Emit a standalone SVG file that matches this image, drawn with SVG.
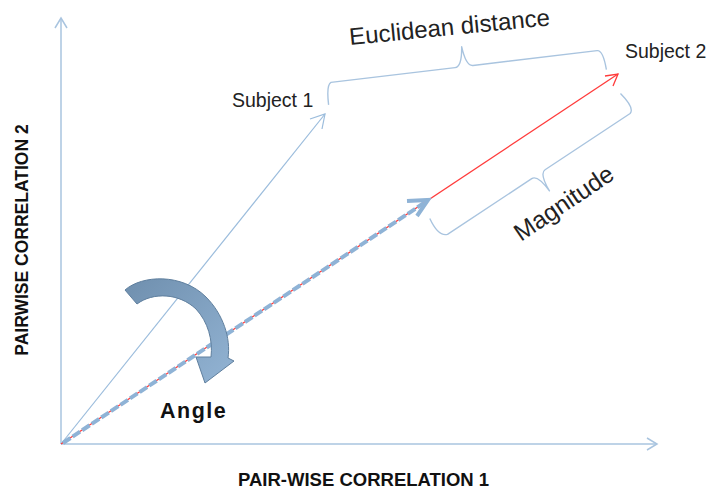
<svg xmlns="http://www.w3.org/2000/svg" width="709" height="490" viewBox="0 0 709 490">
<defs>
<style>
.axis{stroke:#a9c4df;stroke-width:1.5;fill:none}
.thin{stroke:#9bbcdc;stroke-width:1.2;fill:none}
.brace{stroke:#a9c4df;stroke-width:1.4;fill:none;stroke-linejoin:round}
.red{stroke:#ff3b3b;stroke-width:1.3;fill:none}
.dash{stroke:#8fb3d6;stroke-width:4;fill:none;stroke-dasharray:9 2.5}
.lbl{font-family:"Liberation Sans",Arial,sans-serif;fill:#222}
.bold{font-family:"Liberation Sans",Arial,sans-serif;font-weight:bold;fill:#111}
</style>
<linearGradient id="g" x1="0" y1="0" x2="1" y2="1">
<stop offset="0" stop-color="#6f8fae"/>
<stop offset="1" stop-color="#93b4d4"/>
</linearGradient>
</defs>
<rect width="709" height="490" fill="#fff"/>
<g id="connectors">
<line class="axis" x1="61" y1="444" x2="61" y2="19"/>
<polyline class="axis" points="55,28 61,18 67,28"/>
<line class="axis" x1="61" y1="444" x2="656" y2="444"/>
<polyline class="axis" points="647,438 657,444 647,450"/>
<line class="thin" x1="61" y1="444" x2="325" y2="114"/>
<polyline class="thin" points="310,119 325,114 322,129"/>
<line class="red" x1="61" y1="444" x2="618" y2="74"/>
<polyline class="red" points="605,76 618,74 613,86"/>
<line class="dash" x1="63" y1="443" x2="424" y2="203"/>
<polyline points="407,201 428,200 417,216" fill="none" stroke="#8fb3d6" stroke-width="4" stroke-linejoin="miter"/>
</g>
<g id="euclid-brace">
<path class="brace" transform="translate(326,83) rotate(-6.8)" d="M0,22 Q0,2 5,0 L130,0 Q137,0 139,-20 Q141,0 148,0 L273,0 Q279,0 280,20"/>
</g>
<g id="magnitude-brace">
<path class="brace" transform="translate(445,236) rotate(-33.5)" d="M-3,-23 Q-6,-3 3,0 L104,0 Q111,0 112,20 Q113,0 120,0 L222,0 Q229,-2 225,-22"/>
</g>
<g id="angle-arrow">
<path d="M125,290 C142,275 182,273 206,297 C223,314 231,338 228,358 L234,361 L205,383 L196,357 L211,357 C213,340 208,322 196,309 C179,293 153,292 137,304 Z" fill="url(#g)" stroke="#5f7f9e" stroke-width="1"/>
</g>
<g id="subject1"><text class="lbl" x="232" y="107" font-size="19.5">Subject 1</text></g>
<g id="subject2"><text class="lbl" x="625" y="58" font-size="19.5">Subject 2</text></g>
<g id="euclidean"><text class="lbl" x="350" y="45" font-size="24" transform="rotate(-5.6 350 45)">Euclidean distance</text></g>
<g id="magnitude"><text class="lbl" x="521" y="242" font-size="24.5" transform="rotate(-34 521 242)">Magnitude</text></g>
<g id="angle"><text class="bold" x="160" y="418" font-size="21.5" letter-spacing="1.5">Angle</text></g>
<g id="xlabel"><text class="bold" x="238" y="486" font-size="18.5">PAIR-WISE CORRELATION 1</text></g>
<g id="ylabel"><text class="bold" x="28" y="240" font-size="17.5" text-anchor="middle" transform="rotate(-90 28 240)">PAIRWISE CORRELATION 2</text></g>
</svg>
